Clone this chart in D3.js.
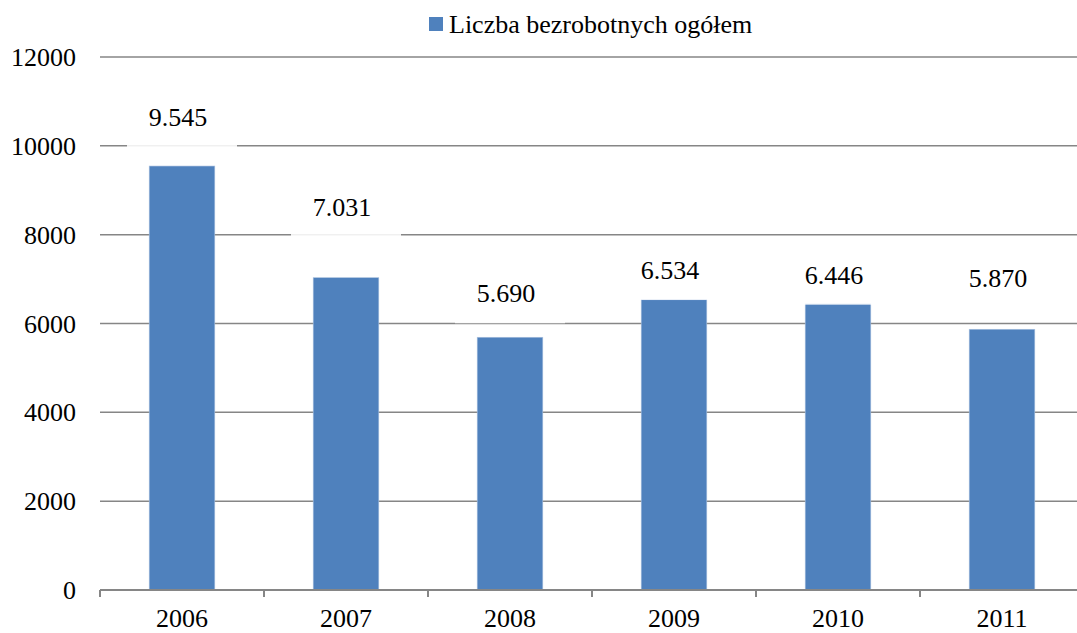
<!DOCTYPE html>
<meta charset="utf-8">
<script src="https://d3js.org/d3.v7.min.js"></script>
<style>
  body { margin: 0; background: #fff; }
</style>
<svg id="chart" width="1077" height="633"></svg>
<script>
    // data
    const years = ["2006", "2007", "2008", "2009", "2010", "2011"];
    const unemployed = [9545, 7031, 5690, 6534, 6446, 5870];
    const valueLabels = ["9.545", "7.031", "5.690", "6.534", "6.446", "5.870"];
    const yTicks = [0, 2000, 4000, 6000, 8000, 10000, 12000];
    const seriesName = "Liczba bezrobotnych ogółem";

    // labels sit at uneven heights above the bars (pixels)
    const labelLift = [40, 62, 35, 21, 20, 42];

    const serif = "Liberation Serif, DejaVu Serif, serif";
    const svg = d3.select("#chart")
        .attr("font-family", serif);
    // the plot runs a little past the right edge of the picture
    const plotLeft = 100, plotRight = 1084, plotTop = 57, plotBottom = 590;
    const blue = "#4F81BD", grid = "#868686";

    const x = d3.scaleBand().domain(years).range([plotLeft, plotRight]).paddingInner(0.6).paddingOuter(0.3);
    const band = d3.scaleBand().domain(years).range([plotLeft, plotRight]);
    const y = d3.scaleLinear().domain([0, 12000]).range([plotBottom, plotTop]);

    // gridlines
    svg.append("g")
        .selectAll("line")
        .data(yTicks.filter(d => d > 0))
        .join("line")
          .attr("x1", plotLeft).attr("x2", plotRight)
          .attr("y1", d => y(d)).attr("y2", d => y(d))
          .attr("stroke", grid).attr("stroke-width", 1.5);

    // y tick labels
    svg.append("g")
        .selectAll("text")
        .data(yTicks)
        .join("text")
          .attr("x", 76)
          .attr("y", d => y(d) + 9)
          .attr("text-anchor", "end")
          .attr("font-size", 26)
          .text(d => d);

    // bars
    svg.append("g")
        .selectAll("rect")
        .data(unemployed)
        .join("rect")
          .attr("x", (d, i) => x(years[i]))
          .attr("width", x.bandwidth())
          .attr("y", d => y(d))
          .attr("height", d => plotBottom - y(d))
          .attr("fill", blue)
          .attr("stroke", "#a7bfde").attr("stroke-width", 0.6);

    // value labels with white boxes
    const lab = svg.append("g")
        .selectAll("g")
        .data(unemployed)
        .join("g")
          .attr("transform", (d, i) => `translate(${x(years[i]) + x.bandwidth() / 2},${y(d) - labelLift[i]})`);
    lab.append("rect")
        .attr("x", -55).attr("y", -30)
        .attr("width", 110).attr("height", 51)
        .attr("fill", "#fff").attr("fill-opacity", 0.88);
    lab.append("text")
        .attr("x", -4)
        .attr("text-anchor", "middle")
        .attr("font-size", 26)
        .text((d, i) => valueLabels[i]);

    // x axis
    const xAxis = svg.append("g");
    xAxis.append("line")
        .attr("x1", plotLeft).attr("x2", plotRight)
        .attr("y1", plotBottom).attr("y2", plotBottom)
        .attr("stroke", grid).attr("stroke-width", 2);
    xAxis.selectAll("line.tick")
        .data(years)
        .join("line")
          .attr("class", "tick")
          .attr("x1", d => band(d)).attr("x2", d => band(d))
          .attr("y1", plotBottom).attr("y2", plotBottom + 7)
          .attr("stroke", grid).attr("stroke-width", 2);
    xAxis.selectAll("text")
        .data(years)
        .join("text")
          .attr("x", d => x(d) + x.bandwidth() / 2)
          .attr("y", 627)
          .attr("text-anchor", "middle")
          .attr("font-size", 26)
          .text(d => d);

    // legend
    const legend = svg.append("g").attr("transform", "translate(429,17)");
    legend.append("rect").attr("width", 14).attr("height", 14).attr("fill", blue);
    legend.append("text")
        .attr("x", 20).attr("y", 16)
        .attr("font-size", 26)
        .text(seriesName);
</script>
